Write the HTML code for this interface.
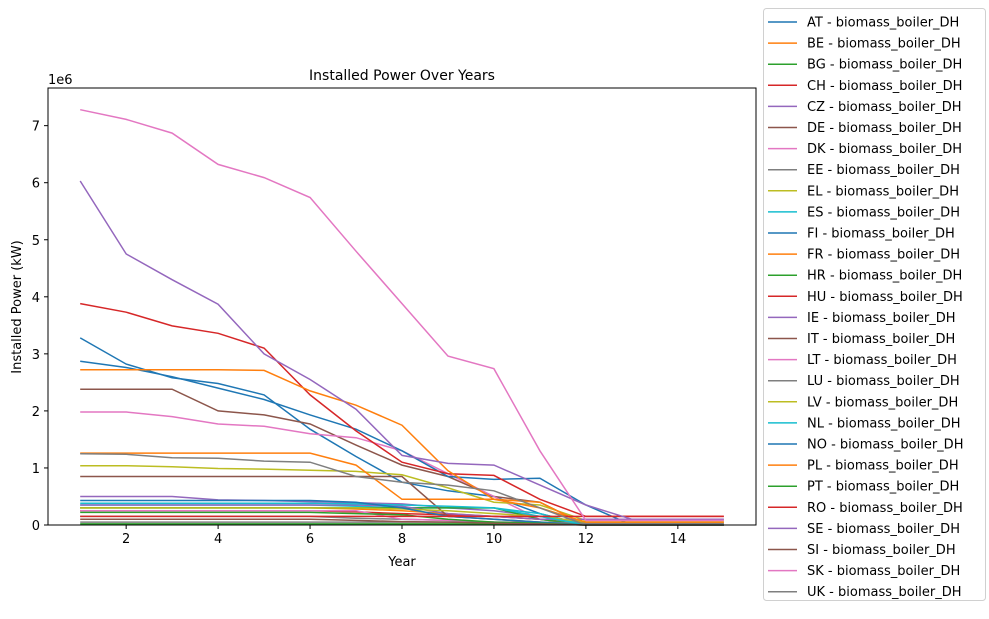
<!DOCTYPE html>
<html><head><meta charset="utf-8">
<style>
body{margin:0;background:#fff;font-family:"Liberation Sans","DejaVu Sans",sans-serif;}
svg text{font-family:"DejaVu Sans","Liberation Sans",sans-serif;fill:#000;}
</style></head>
<body>
<svg id="chart" width="989" height="614" xmlns="http://www.w3.org/2000/svg">
<rect width="989" height="614" fill="#fff"/>
<text x="402" y="80" font-size="14" text-anchor="middle">Installed Power Over Years</text>
<text x="402" y="566" font-size="13" text-anchor="middle">Year</text>
<text transform="translate(21,307) rotate(-90)" font-size="13" text-anchor="middle">Installed Power (kW)</text>
<text x="48" y="84" font-size="13">1e6</text>
<g id="plot"></g>
<g id="axes"></g>
<g id="legend"></g>
</svg>
<script>
const years=[1,2,3,4,5,6,7,8,9,10,11,12,13,14,15];
const seriesNames=["AT","BE","BG","CH","CZ","DE","DK","EE","EL","ES","FI","FR","HR","HU","IE","IT","LT","LU","LV","NL","NO","PL","PT","RO","SE","SI","SK","UK"];
const AT=[3.28,2.82,2.58,2.48,2.28,1.68,1.2,0.75,0.6,0.5,0.2,0,0,0,0];
const BE=[0.3,0.3,0.3,0.3,0.3,0.3,0.28,0.25,0.2,0.15,0.1,0,0,0,0];
const BG=[0.02,0.02,0.02,0.02,0.02,0.02,0.02,0.02,0.02,0.02,0.02,0,0,0,0];
const CH=[0.25,0.25,0.25,0.25,0.25,0.25,0.23,0.2,0.18,0.15,0.1,0.02,0.02,0.02,0.02];
const CZ=[0.5,0.5,0.5,0.44,0.43,0.41,0.39,0.37,0.3,0.25,0.15,0.05,0.05,0.05,0.05];
const DE=[2.38,2.38,2.38,2.0,1.93,1.77,1.4,1.05,0.85,0.5,0.4,0,0,0,0];
const DK=[1.98,1.98,1.9,1.77,1.73,1.6,1.53,1.3,0.9,0.5,0.1,0,0,0,0];
const EE=[0.15,0.15,0.15,0.15,0.15,0.15,0.12,0.1,0.08,0.05,0.03,0,0,0,0];
const EL=[1.04,1.04,1.02,0.99,0.98,0.96,0.94,0.88,0.65,0.4,0.35,0.08,0.08,0.08,0.08];
const ES=[0.35,0.35,0.35,0.35,0.35,0.35,0.33,0.3,0.3,0.3,0.2,0,0,0,0];
const FI=[2.87,2.76,2.6,2.4,2.2,1.93,1.68,1.3,0.85,0.8,0.82,0.35,0,0,0];
const FR=[1.26,1.26,1.26,1.26,1.26,1.26,1.05,0.45,0.45,0.45,0.4,0,0,0,0];
const HR=[0.3,0.3,0.3,0.3,0.3,0.3,0.3,0.3,0.3,0.3,0.1,0,0,0,0];
const HU=[3.88,3.73,3.49,3.36,3.1,2.28,1.65,1.1,0.9,0.87,0.45,0.15,0.15,0.15,0.15];
const IE=[0.35,0.35,0.35,0.35,0.35,0.35,0.35,0.33,0.2,0.15,0.1,0.1,0.1,0.1,0.1];
const IT=[0.85,0.85,0.85,0.85,0.85,0.85,0.85,0.85,0.15,0.1,0.05,0,0,0,0];
const LT=[0.25,0.25,0.25,0.25,0.25,0.25,0.25,0.1,0.08,0.05,0.02,0,0,0,0];
const LU=[0.05,0.05,0.05,0.05,0.05,0.05,0.05,0.05,0.05,0.05,0.05,0.03,0.03,0.03,0.03];
const LV=[0.3,0.3,0.3,0.3,0.3,0.3,0.3,0.28,0.25,0.2,0.15,0.05,0.05,0.05,0.05];
const NL=[0.38,0.38,0.38,0.38,0.38,0.38,0.37,0.35,0.33,0.3,0.15,0,0,0,0];
const NO=[0.43,0.43,0.43,0.43,0.43,0.43,0.4,0.3,0.15,0.1,0.05,0,0,0,0];
const PL=[2.72,2.72,2.72,2.72,2.71,2.35,2.1,1.75,0.95,0.45,0.3,0.05,0.05,0.05,0.05];
const PT=[0.22,0.22,0.22,0.22,0.22,0.22,0.2,0.18,0.1,0.05,0.03,0,0,0,0];
const RO=[0.15,0.15,0.15,0.15,0.15,0.15,0.15,0.15,0.15,0.15,0.15,0.15,0.15,0.15,0.15];
const SE=[6.03,4.75,4.3,3.87,3.0,2.55,2.03,1.22,1.08,1.05,0.7,0.35,0.1,0.1,0.1];
const SI=[0.1,0.1,0.1,0.1,0.1,0.1,0.08,0.06,0.05,0.03,0.02,0,0,0,0];
const SK=[7.28,7.11,6.87,6.32,6.09,5.74,4.8,3.88,2.96,2.74,1.3,0.08,0.08,0.08,0.08];
const UK=[1.25,1.24,1.18,1.17,1.12,1.1,0.85,0.75,0.7,0.6,0.3,0,0,0,0];
const seriesValues=[AT,BE,BG,CH,CZ,DE,DK,EE,EL,ES,FI,FR,HR,HU,IE,IT,LT,LU,LV,NL,NO,PL,PT,RO,SE,SI,SK,UK];
const xTicks=[2,4,6,8,10,12,14];
const yTicks=[0,1,2,3,4,5,6,7];
const colors=["#1f77b4","#ff7f0e","#2ca02c","#d62728","#9467bd","#8c564b","#e377c2","#7f7f7f","#bcbd22","#17becf"];

const L=48,R=756,T=88,B=525;
const xMin=0.3,xMax=15.7,yMin=0,yMax=7.66;
const xs=v=>L+(v-xMin)/(xMax-xMin)*(R-L);
const ys=v=>B-(v-yMin)/(yMax-yMin)*(B-T);
const NS="http://www.w3.org/2000/svg";
const plot=document.getElementById('plot'),axes=document.getElementById('axes'),legend=document.getElementById('legend');
function mk(tag,attrs,parent){const e=document.createElementNS(NS,tag);for(const k in attrs)e.setAttribute(k,attrs[k]);parent.appendChild(e);return e;}

seriesValues.forEach((vals,i)=>{
  const pts=vals.map((v,j)=>xs(years[j]).toFixed(1)+','+ys(v).toFixed(1)).join(' ');
  const pl=mk('polyline',{points:pts,fill:'none',stroke:colors[i%10],'stroke-width':1.5},plot);
  
  
});

const frame=mk('rect',{x:L,y:T,width:R-L,height:B-T,fill:'none',stroke:'#000','stroke-width':1},axes);


xTicks.forEach(t=>{
  const x=xs(t);
  mk('line',{x1:x,x2:x,y1:B,y2:B+4,stroke:'#000'},axes);
  const tx=mk('text',{x:x,y:B+18,'font-size':13,'text-anchor':'middle'},axes);
  tx.textContent=t;
  
  
});
yTicks.forEach(t=>{
  const y=ys(t);
  mk('line',{x1:L-4,x2:L,y1:y,y2:y,stroke:'#000'},axes);
  const tx=mk('text',{x:L-8,y:y+5,'font-size':13,'text-anchor':'end'},axes);
  tx.textContent=t;
  
  
});

const lb=mk('rect',{x:763.5,y:8.5,width:222,height:592,rx:3,fill:'#fff',stroke:'#d0d0d0'},legend);


seriesNames.forEach((n,i)=>{
  const y=22+i*21.1;
  const g=mk('g',{},legend);
  
  
  mk('line',{x1:768,x2:797,y1:y,y2:y,stroke:colors[i%10],'stroke-width':1.5},g);
  const t=mk('text',{x:807,y:y+4.5,'font-size':13},g);
  t.textContent=n+' - biomass_boiler_DH';
});
</script>
</body></html>
